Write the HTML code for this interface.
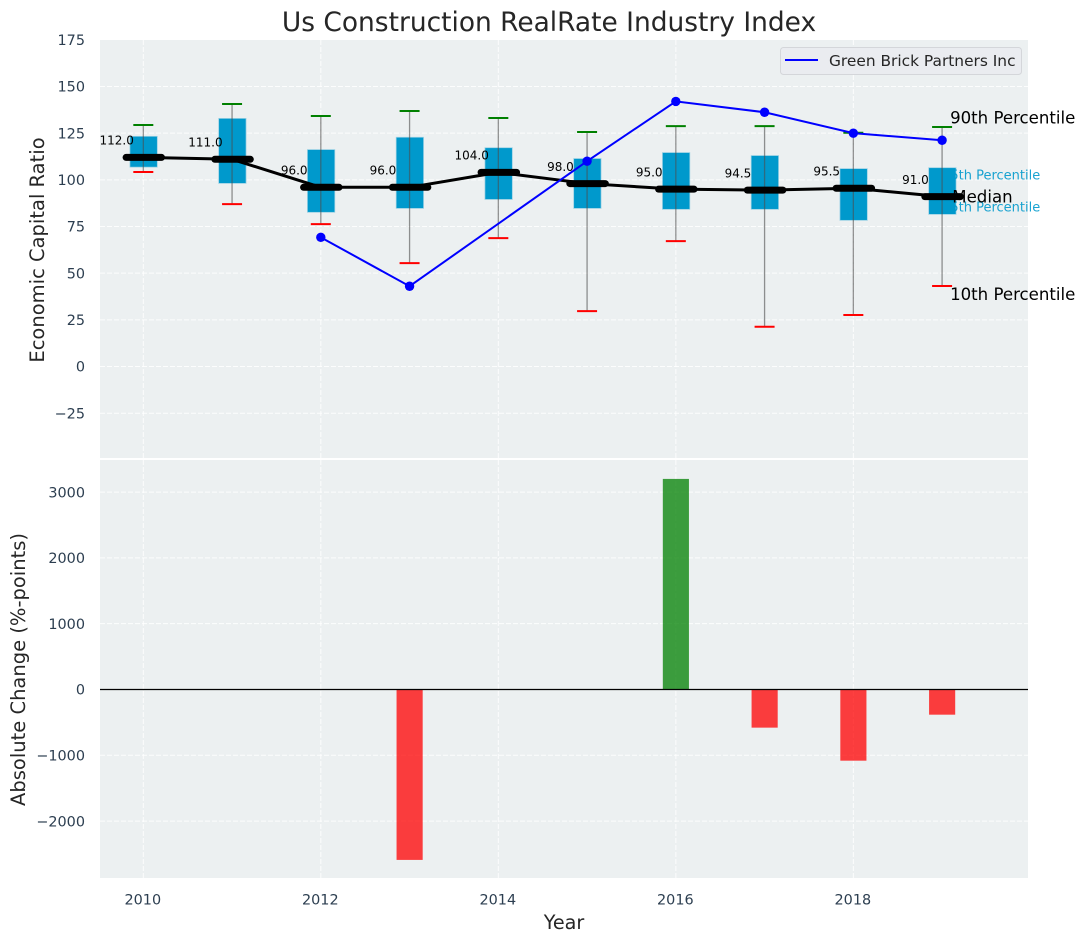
<!DOCTYPE html>
<html lang="en">
<head>
<meta charset="utf-8">
<title>Us Construction RealRate Industry Index</title>
<style>
html,body{margin:0;padding:0;background:#fff;}
svg{display:block;font-family:"DejaVu Sans","Liberation Sans",sans-serif;}
</style>
</head>
<body>
<svg id="chart" xmlns="http://www.w3.org/2000/svg" width="1085" height="942" viewBox="0 0 1085 942">
  <text x="549" y="31" text-anchor="middle" font-size="26.45" fill="#262626">Us Construction RealRate Industry Index</text>
  <rect x="100" y="40" width="928" height="418" fill="#ecf0f1"/>
  <rect x="100" y="460" width="928" height="418" fill="#ecf0f1"/>
  <g id="grid"></g>
  <g id="top"></g>
  <g id="bottom"></g>
  <g id="ticks"></g>
  <text transform="translate(44,250) rotate(-90)" text-anchor="middle" font-size="19.5" fill="#262626">Economic Capital Ratio</text>
  <text transform="translate(25,669.5) rotate(-90)" text-anchor="middle" font-size="19.5" fill="#262626">Absolute Change (%-points)</text>
  <text x="564" y="929" text-anchor="middle" font-size="19.2" fill="#262626">Year</text>
  <g>
    <rect x="780.5" y="47.5" width="241" height="27" rx="3" fill="#eaecf0" stroke="#d4d6da" stroke-width="1"/>
    <line x1="785" y1="60" x2="818" y2="60" stroke="#0000ff" stroke-width="2"/>
    <text x="829" y="66" font-size="15.4" fill="#262626">Green Brick Partners Inc</text>
  </g>
</svg>
<script>
const years = [2010, 2011, 2012, 2013, 2014, 2015, 2016, 2017, 2018, 2019];
const p90 = [129.4, 140.6, 134.2, 136.9, 133.1, 125.6, 128.8, 128.8, 125.2, 128.3];
const p75 = [123.1, 132.7, 116, 122.6, 117, 111.2, 114.4, 112.8, 105.8, 106.3];
const medians = [112, 111, 96, 96, 104, 98, 95, 94.5, 95.5, 91];
const p25 = [107, 98.3, 82.8, 84.9, 89.7, 84.9, 84.4, 84.4, 78.5, 81.7];
const p10 = [104.2, 87, 76.3, 55.4, 68.8, 29.7, 67.2, 21.3, 27.6, 43.1];
const greenBrick = [null, null, 69.2, 43, null, 110, 142, 136.2, 125, 121.2];
const absoluteChange = [null, null, null, -2590, null, null, 3200, -580, -1082, -383];
const xTicks = [2010, 2012, 2014, 2016, 2018];
const topTicks = [175, 150, 125, 100, 75, 50, 25, 0, -25];
const bottomTicks = [3000, 2000, 1000, 0, -1000, -2000];
const xDomain = [2009.512, 2019.968];
const topDomain = [174.9, -49];
const bottomDomain = [3495, -2865];

const NS = 'http://www.w3.org/2000/svg';
function linear(d, r) {
  return function (v) { return r[0] + (v - d[0]) * (r[1] - r[0]) / (d[1] - d[0]); };
}
const xScale = linear(xDomain, [100, 1028]);
const yTop = linear(topDomain, [40, 458]);
const yBottom = linear(bottomDomain, [459.5, 878]);
const yearPx = xScale(1) - xScale(0);

function el(parent, tag, attrs, text) {
  const n = document.createElementNS(NS, tag);
  for (const k in attrs) n.setAttribute(k, attrs[k]);
  if (text !== undefined) n.textContent = text;
  parent.appendChild(n);
  return n;
}
function fmt(v) { return String(v).replace('-', '\u2212'); }

const gridG = document.getElementById('grid');
const topG = document.getElementById('top');
const botG = document.getElementById('bottom');
const tickG = document.getElementById('ticks');
const gridStyle = { stroke: '#ffffff', 'stroke-width': 1, 'stroke-dasharray': '5 2', 'stroke-opacity': 0.85 };

xTicks.forEach(function (t) {
  const px = xScale(t);
  const g1 = el(gridG, 'line', Object.assign({ x1: px, x2: px, y1: 40, y2: 458 }, gridStyle));
  
  
  const g2 = el(gridG, 'line', Object.assign({ x1: px, x2: px, y1: 460, y2: 878 }, gridStyle));
  
  
  const lab = el(tickG, 'text', { x: px - 0.5, y: 904.5, 'text-anchor': 'middle', 'font-size': 14.4, fill: '#2c3e50' }, String(t));
  
  
});
topTicks.forEach(function (t) {
  const py = yTop(t);
  if (t !== 175) {
    const g = el(gridG, 'line', Object.assign({ x1: 100, x2: 1028, y1: py, y2: py }, gridStyle));
    
    
  }
  const lab = el(tickG, 'text', { x: 85, y: py + 5.2, 'text-anchor': 'end', 'font-size': 14.4, fill: '#2c3e50' }, fmt(t));
  
  
});
bottomTicks.forEach(function (t) {
  const py = yBottom(t);
  const g = el(gridG, 'line', Object.assign({ x1: 100, x2: 1028, y1: py, y2: py }, gridStyle));
  
  
  const lab = el(tickG, 'text', { x: 85, y: py + 5.2, 'text-anchor': 'end', 'font-size': 14.4, fill: '#2c3e50' }, fmt(t));
  
  
});

/* Small percentile annotations sit behind the last box */
const last = years.length - 1;
const lastX = xScale(years[last]);
const a75 = el(topG, 'text', { x: lastX, y: yTop(p75[last]) + 11.5, 'font-size': 13, fill: '#0099cc', 'fill-opacity': 0.9 }, '75th Percentile');


const a25 = el(topG, 'text', { x: lastX, y: yTop(p25[last]) - 2.5, 'font-size': 13, fill: '#0099cc', 'fill-opacity': 0.9 }, '25th Percentile');



years.forEach(function (yr, i) {
  const px = xScale(yr);
  const box = el(topG, 'rect', {
    x: px - 0.15 * yearPx + 0.3, y: yTop(p75[i]), width: 0.3 * yearPx, height: yTop(p25[i]) - yTop(p75[i]),
    fill: '#0099cc', stroke: '#0099cc', 'stroke-opacity': 0.35, 'stroke-width': 1.5
  });
  
  
  const whisker = el(topG, 'line', { x1: px, x2: px, y1: yTop(p90[i]), y2: yTop(p10[i]), stroke: '#4d4d4d', 'stroke-opacity': 0.6, 'stroke-width': 1.3 });
  
  
  const capHi = el(topG, 'line', { x1: px - 10, x2: px + 10, y1: yTop(p90[i]), y2: yTop(p90[i]), stroke: '#008000', 'stroke-width': 2 });
  
  
  const capLo = el(topG, 'line', { x1: px - 10, x2: px + 10, y1: yTop(p10[i]), y2: yTop(p10[i]), stroke: '#ff0000', 'stroke-width': 2 });
  
  
});

const medianLine = el(topG, 'polyline', {
  points: years.map(function (yr, i) { return xScale(yr) + ',' + yTop(medians[i]); }).join(' '),
  fill: 'none', stroke: '#000', 'stroke-width': 3, 'stroke-linejoin': 'round'
});



years.forEach(function (yr, i) {
  const px = xScale(yr);
  const py = yTop(medians[i]);
  const bar = el(topG, 'line', { x1: px - 0.2 * yearPx + 0.5, x2: px + 0.2 * yearPx + 0.5, y1: py, y2: py, stroke: '#000', 'stroke-width': 7, 'stroke-linecap': 'round' });
  
  
  const label = el(topG, 'text', { x: px - 0.3 * yearPx, y: py - 12.8, 'text-anchor': 'middle', 'font-size': 12, fill: '#000' }, medians[i].toFixed(1));
  
  
});

const bluePts = years.map(function (yr, i) { return greenBrick[i] === null ? null : [xScale(yr), yTop(greenBrick[i])]; }).filter(Boolean);
const blueLine = el(topG, 'polyline', { points: bluePts.map(function (p) { return p.join(','); }).join(' '), fill: 'none', stroke: '#0000ff', 'stroke-width': 2 });


bluePts.forEach(function (p) {
  const dot = el(topG, 'circle', { cx: p[0], cy: p[1], r: 4.7, fill: '#0000ff' });
  
  
});

const a90 = el(topG, 'text', { x: lastX + 0.09 * yearPx, y: yTop(p90[last]) - 3.5, 'font-size': 16.6, fill: '#000' }, '90th Percentile');


const aMed = el(topG, 'text', { x: lastX + 0.115 * yearPx, y: yTop(medians[last]) + 6, 'font-size': 16.6, fill: '#000' }, 'Median');


const a10 = el(topG, 'text', { x: lastX + 0.09 * yearPx, y: yTop(p10[last]) + 14, 'font-size': 16.6, fill: '#000' }, '10th Percentile');



years.forEach(function (yr, i) {
  const v = absoluteChange[i];
  if (v === null) return;
  const px = xScale(yr);
  const y0 = yBottom(0);
  const y1 = yBottom(v);
  const r = el(botG, 'rect', {
    x: px - 0.15 * yearPx + 0.3, y: Math.min(y0, y1), width: 0.3 * yearPx - 0.5, height: Math.abs(y1 - y0),
    fill: v >= 0 ? '#008000' : '#ff0000', 'fill-opacity': 0.75
  });
  
  
});
const zero = el(botG, 'line', { x1: 100, x2: 1028, y1: yBottom(0), y2: yBottom(0), stroke: '#000', 'stroke-width': 1.3 });


</script>
</body>
</html>
